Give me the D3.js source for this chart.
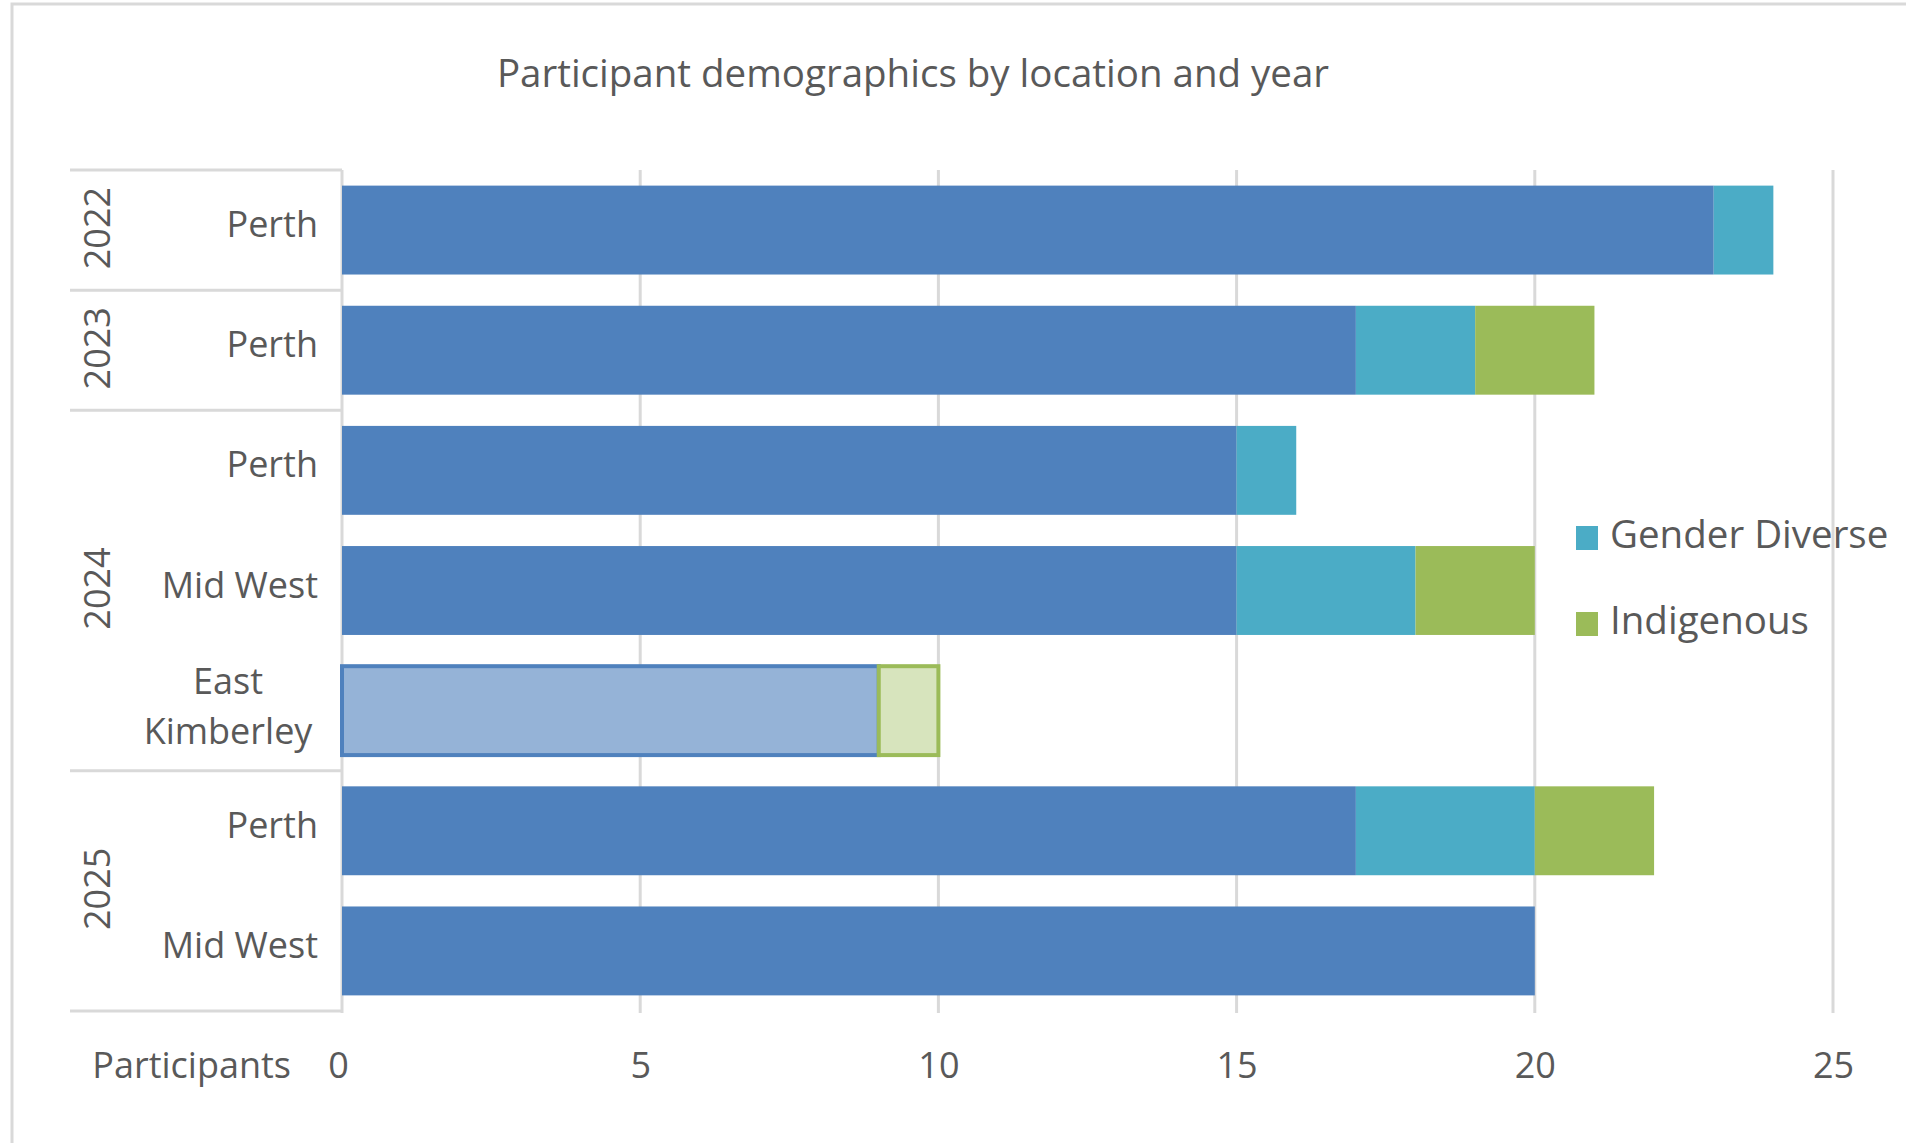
<!DOCTYPE html>
<html>
<head>
<meta charset="utf-8">
<script src="https://cdn.jsdelivr.net/npm/d3@7"></script>
<style>
  body { margin: 0; background: #fff; }
  text { font-family: "Open Sans", sans-serif; fill: #595959; }
</style>
</head>
<body>
<svg></svg>
<script>
// Chart data, one entry per bar (top to bottom)
const years = ["2022", "2023", "2024", "2024", "2024", "2025", "2025"];
const locations = ["Perth", "Perth", "Perth", "Mid West", "East Kimberley", "Perth", "Mid West"];
const otherParticipants = [23, 17, 15, 15, 9, 17, 20];
const genderDiverse = [1, 2, 1, 3, 0, 3, 0];
const indigenous = [0, 2, 0, 2, 1, 2, 0];
const highlightedRow = 4;  // East Kimberley is drawn lighter
const xTicks = [0, 5, 10, 15, 20, 25];
const legendItems = ["Gender Diverse", "Indigenous"];

const width = 1906;
const height = 1143;
const plot = { left: 342, right: 1833, top: 170, bottom: 1011 };

const svg = d3.select("svg")
    .attr("width", width)
    .attr("height", height);

// outer chart border (runs off the right and bottom edge like the picture)
svg.append("rect")
    .attr("x", 12).attr("y", 4)
    .attr("width", width).attr("height", height)
    .attr("fill", "none")
    .attr("stroke", "#d9d9d9")
    .attr("stroke-width", 3);

// title
svg.append("text")
    .attr("x", 913)
    .attr("y", 87)
    .attr("text-anchor", "middle")
    .style("font-size", "38.5px")
    .text("Participant demographics by location and year");

// build rows for stacking
const keys = ["Other", "Gender Diverse", "Indigenous"];
const rows = locations.map((loc, i) => ({
    id: i,
    year: years[i],
    location: loc,
    "Other": otherParticipants[i],
    "Gender Diverse": genderDiverse[i],
    "Indigenous": indigenous[i]
}));
const stacked = d3.stack().keys(keys)(rows);

const x = d3.scaleLinear()
    .domain([0, 25])
    .range([plot.left, plot.right]);

const y = d3.scaleBand()
    .domain(rows.map(d => d.id))
    .range([plot.top, plot.bottom])
    .paddingInner(0.26)
    .paddingOuter(0.13);

const color = d3.scaleOrdinal()
    .domain(keys)
    .range(["#4f81bd", "#4bacc6", "#9bbb59"]);
const lightColor = d3.scaleOrdinal()
    .domain(keys)
    .range(["#95b3d7", "#b7dee8", "#d7e4bd"]);

// vertical gridlines
svg.append("g")
    .selectAll("line")
    .data(xTicks)
    .enter().append("line")
    .attr("x1", d => x(d))
    .attr("x2", d => x(d))
    .attr("y1", plot.top)
    .attr("y2", plot.bottom + 2)
    .attr("stroke", "#d9d9d9")
    .attr("stroke-width", 3);

// bars
const barLayer = svg.append("g");
stacked.forEach(series => {
    barLayer.selectAll(null)
        .data(series.filter(d => d[1] > d[0]))
        .enter().append("rect")
        .attr("x", d => x(d[0]))
        .attr("y", d => y(d.data.id))
        .attr("width", d => x(d[1]) - x(d[0]))
        .attr("height", y.bandwidth())
        .attr("fill", d => d.data.id === highlightedRow ? lightColor(series.key) : color(series.key))
        .attr("stroke", d => d.data.id === highlightedRow ? color(series.key) : "none")
        .attr("stroke-width", 4);
});

// category table: location labels
const step = y.step();
const rowTop = i => y(i) - y.paddingInner() * step / 2;
const catLabels = svg.append("g");
rows.forEach(d => {
    const cy = rowTop(d.id) + step / 2;
    const words = d.location === "East Kimberley" ? ["East", "Kimberley"] : [d.location];
    if (words.length === 1) {
        catLabels.append("text")
            .attr("x", 318)
            .attr("y", cy + 7)
            .attr("text-anchor", "end")
            .style("font-size", "36px")
            .text(words[0]);
    } else {
        words.forEach((w, j) => {
            catLabels.append("text")
                .attr("x", 228)
                .attr("y", cy - 17 + j * 50)
                .attr("text-anchor", "middle")
                .style("font-size", "36px")
                .text(w);
        });
    }
});

// year groups
const groups = d3.groups(rows, d => d.year).map(([year, items]) => ({
    year: year,
    top: rowTop(items[0].id),
    bottom: rowTop(items[items.length - 1].id) + step
}));

svg.append("g")
    .selectAll("text")
    .data(groups)
    .enter().append("text")
    .attr("transform", d => "translate(110," + ((d.top + d.bottom) / 2 - 2) + ") rotate(-90)")
    .attr("text-anchor", "middle")
    .style("font-size", "36px")
    .text(d => d.year);

// table lines between year groups
const sepY = [groups[0].top].concat(groups.map(d => d.bottom));
svg.append("g")
    .selectAll("line")
    .data(sepY)
    .enter().append("line")
    .attr("x1", 70)
    .attr("x2", plot.left)
    .attr("y1", d => d)
    .attr("y2", d => d)
    .attr("stroke", "#d9d9d9")
    .attr("stroke-width", 3);

// x axis labels
const xAxis = d3.axisBottom(x).tickValues(xTicks).tickSize(0).tickPadding(0);
const axisG = svg.append("g")
    .attr("transform", "translate(0,1078)")
    .call(xAxis);
axisG.select(".domain").remove();
axisG.selectAll("text")
    .attr("dy", 0)
    .attr("dx", d => d === 0 ? -4 : 0)
    .style("font-size", "36px")
    .style("font-family", "'Open Sans', sans-serif")
    .attr("fill", "#595959");

svg.append("text")
    .attr("x", 291)
    .attr("y", 1078)
    .attr("text-anchor", "end")
    .style("font-size", "36px")
    .text("Participants");

// legend
const legend = svg.append("g")
    .attr("transform", "translate(1576,526)");
const item = legend.selectAll("g")
    .data(legendItems)
    .enter().append("g")
    .attr("transform", (d, i) => "translate(0," + i * 86 + ")");
item.append("rect")
    .attr("width", 22)
    .attr("height", 24)
    .attr("fill", d => color(d));
item.append("text")
    .attr("x", 34)
    .attr("y", 22)
    .style("font-size", "38.5px")
    .text(d => d);
</script>
</body>
</html>
